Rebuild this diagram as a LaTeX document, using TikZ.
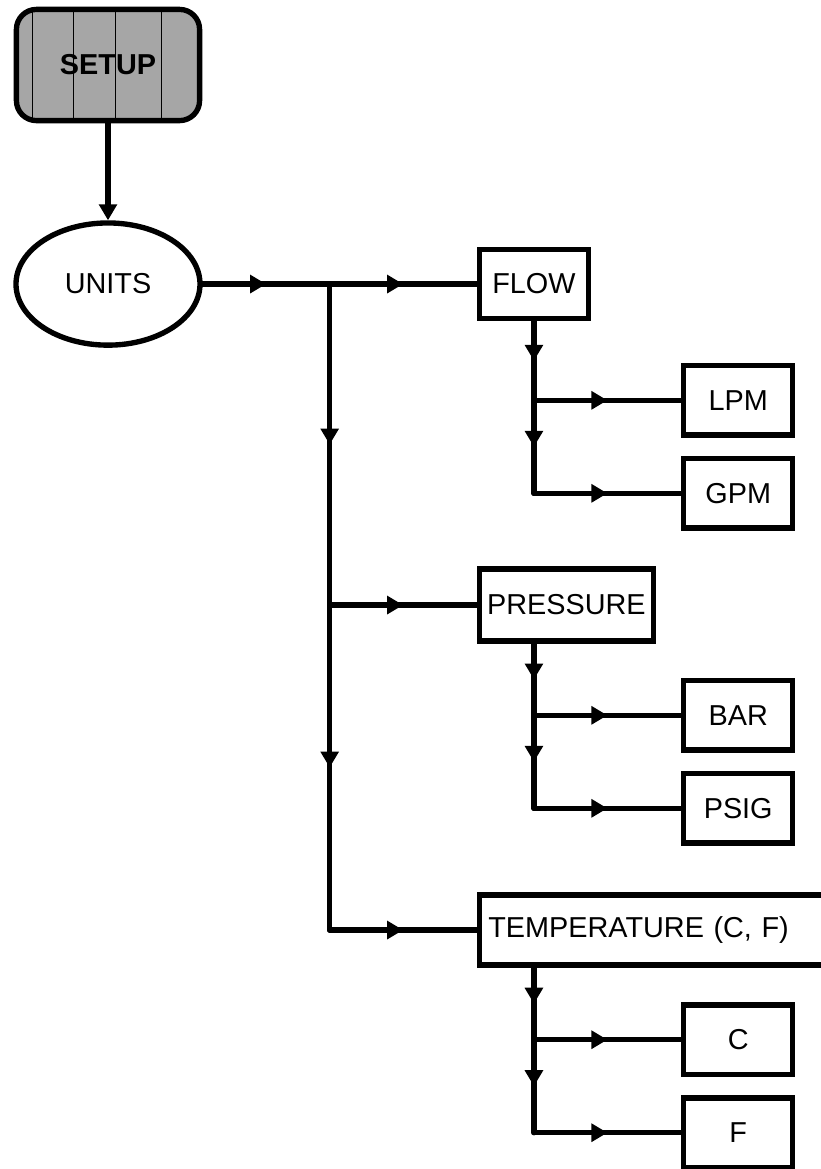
\documentclass[tikz,border=0pt]{standalone}
\usepackage{fontspec}
\setmainfont{Liberation Sans}
\usetikzlibrary{arrows.meta, positioning, shapes.geometric, decorations.markings}

\begin{document}
\begin{tikzpicture}[
  node distance = 3.675cm,
  every node/.style = {font=\fontsize{20.5}{24}\selectfont},
  box/.style = {draw, line width=3.8pt, minimum width=2.73cm, minimum height=1.73cm, inner sep=0pt},
  widebox/.style = {box, minimum width=4.35cm, minimum height=1.8cm},
  menubox/.style = {box, rounded corners=0.5cm, fill=black!35, minimum width=4.58cm, minimum height=2.78cm, font=\fontsize{20.5}{24}\selectfont\bfseries,
    path picture={\foreach \dx in {-1.9,-0.875,0.175,1.325}
      \draw[line width=0.6pt] ([xshift=\dx cm]path picture bounding box.north) -- ([xshift=\dx cm]path picture bounding box.south);}},
  unitell/.style = {draw, ellipse, line width=3.8pt, minimum width=4.6cm, minimum height=3.055cm, inner sep=0pt},
  arrow/.style = {line width=3.8pt, line cap=round, postaction={decorate},
    decoration={markings, mark=at position 0.5 with {\arrow{Triangle[length=4mm, width=4.4mm]}}}}
]
\useasboundingbox (0,0) rectangle (20.525,-29.225);
\clip (0,0) rectangle (20.525,-29.225);

\node[menubox] (setup) at (2.7,-1.625) {SETUP};
\node[unitell, below=2.425cm of setup] (units) {UNITS};
\draw[line width=3.8pt, -{Triangle[length=4mm, width=4.4mm]}] (setup) -- (units);

% main branch
\coordinate[right=3.175cm of units.east] (j0);
\coordinate[below=8.025cm of j0] (j3);
\coordinate[below=8.125cm of j3] (j6);
\node[box, right=of j0] (flow) {FLOW};
\node[widebox, right=of j3] (pressure) {PRESSURE};
\node[box, right=of j6, text width=8.75cm, align=left, inner xsep=0.225cm, minimum height=1.75cm] (temp) {TEMPERATURE (C, F)};

\draw[arrow] (units) -- (j0);
\draw[arrow] (j0) -- (flow);
\draw[arrow] (j0) -- (j3);
\draw[arrow] (j3) -- (pressure);
\draw[arrow] (j3) -- (j6);
\draw[arrow] (j6) -- (temp);

% flow units
\coordinate[below=1.975cm of flow.south] (j1);
\coordinate[below=2.325cm of j1] (j2);
\node[box, right=of j1] (lpm) {LPM};
\node[box, right=of j2] (gpm) {GPM};
\draw[arrow] (flow) -- (j1);
\draw[arrow] (j1) -- (j2);
\draw[arrow] (j1) -- (lpm);
\draw[arrow] (j2) -- (gpm);

% pressure units
\coordinate (p0) at (j1 |- pressure.south);
\coordinate[below=1.79cm of p0] (j4);
\coordinate[below=2.325cm of j4] (j5);
\node[box, right=of j4] (bar) {BAR};
\node[box, right=of j5] (psig) {PSIG};
\draw[arrow] (p0) -- (j4);
\draw[arrow] (j4) -- (j5);
\draw[arrow] (j4) -- (bar);
\draw[arrow] (j5) -- (psig);

% temperature units
\coordinate (t0) at (j1 |- temp.south);
\coordinate[below=1.8cm of t0] (j7);
\coordinate[below=2.325cm of j7] (j8);
\node[box, right=of j7] (degc) {C};
\node[box, right=of j8] (degf) {F};
\draw[arrow] (t0) -- (j7);
\draw[arrow] (j7) -- (j8);
\draw[arrow] (j7) -- (degc);
\draw[arrow] (j8) -- (degf);
\end{tikzpicture}
\end{document}
